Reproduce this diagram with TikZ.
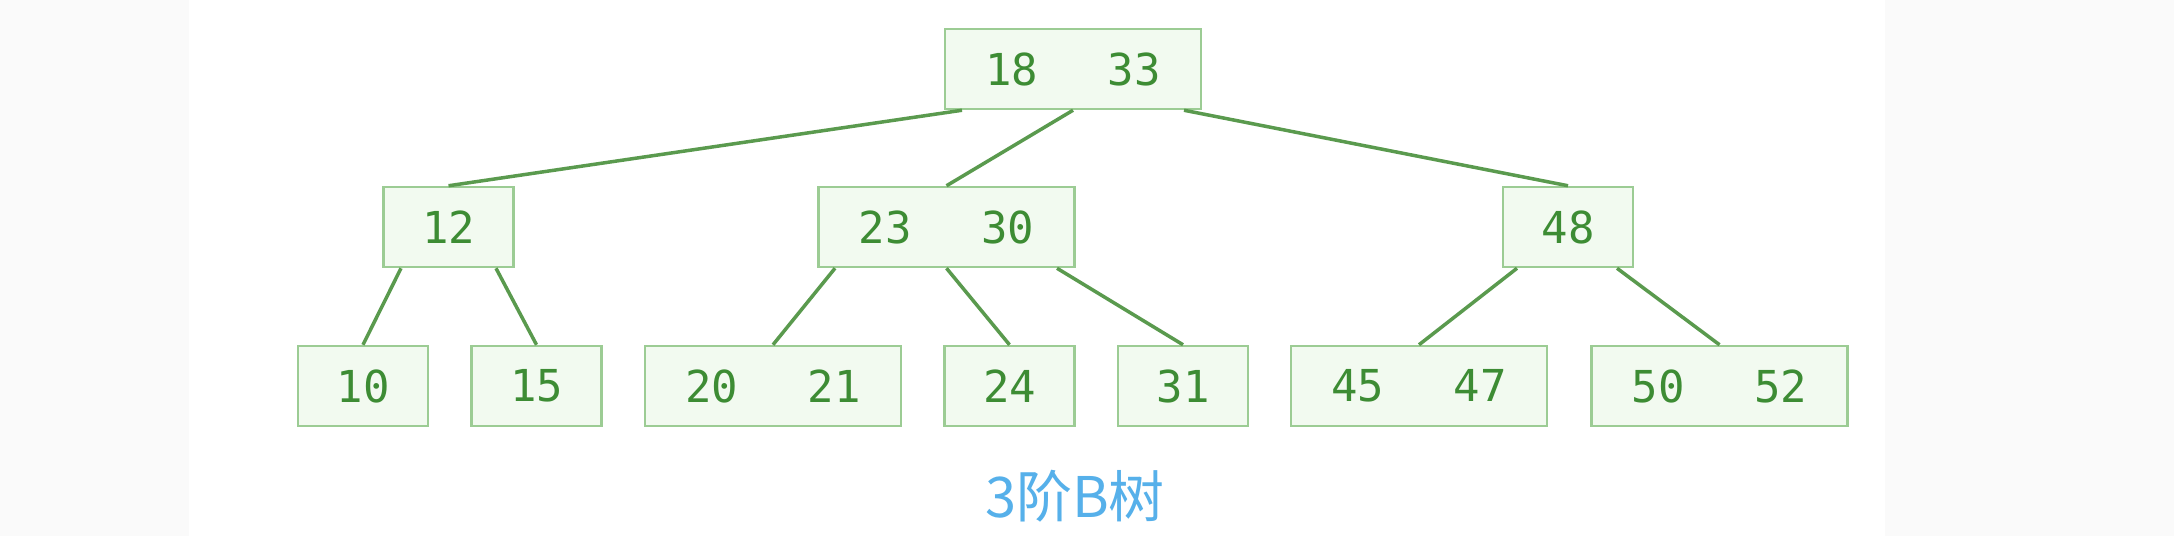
\documentclass[tikz,border=0pt]{standalone}
\usepackage{fontspec}
\newfontfamily\monof{DejaVu Sans Mono}
\newfontfamily\cjkf{Noto Sans CJK SC}
\usetikzlibrary{calc}
\definecolor{sidebg}{HTML}{FAFAFA}
\definecolor{boxline}{HTML}{9CCC94}
\definecolor{boxfill}{HTML}{F2FAF0}
\definecolor{edgec}{HTML}{5A9A4E}
\definecolor{keyc}{HTML}{3D8C34}
\definecolor{capc}{HTML}{56B0EA}
\tikzset{
  bnode/.style={draw=boxline, fill=boxfill, line width=2.5pt, inner sep=0pt,
    minimum height=80pt, text=keyc, font=\monof\fontsize{44}{44}\selectfont},
  one/.style={bnode, minimum width=130pt},
  two/.style={bnode, minimum width=256pt},
  link/.style={draw=edgec, line width=3.5pt}
}
\newcommand{\kk}[2]{#1\hspace{70pt}#2}
\begin{document}
\begin{tikzpicture}[x=1pt,y=-1pt]
\fill[sidebg] (0,0) rectangle (2174,536);
\fill[white] (189,0) rectangle (1885,536);
\useasboundingbox (0,0) rectangle (2174,536);

\node[two] (root) at (1073,69) {\kk{18}{33}};
\node[one] (n12) at (448.5,227) {12};
\node[two] (n2330) at (946.5,227) {\kk{23}{30}};
\node[one] (n48) at (1568,227) {48};

\node[one] (n10) at (363,386) {10};
\node[one] (n15) at (536.5,386) {15};
\node[two] (n2021) at (773,386) {\kk{20}{21}};
\node[one] (n24) at (1009.5,386) {24};
\node[one] (n31) at (1183,386) {31};
\node[two] (n4547) at (1419,386) {\kk{45}{47}};
\node[two] (n5052) at (1719.5,386) {\kk{50}{52}};

\draw[link] ([xshift=-111pt]root.south) -- (n12.north);
\draw[link] (root.south) -- (n2330.north);
\draw[link] ([xshift=111pt]root.south) -- (n48.north);
\draw[link] ([xshift=-47.5pt]n12.south) -- (n10.north);
\draw[link] ([xshift=47.5pt]n12.south) -- (n15.north);
\draw[link] ([xshift=-111.5pt]n2330.south) -- (n2021.north);
\draw[link] (n2330.south) -- (n24.north);
\draw[link] ([xshift=110.5pt]n2330.south) -- (n31.north);
\draw[link] ([xshift=-51pt]n48.south) -- (n4547.north);
\draw[link] ([xshift=49pt]n48.south) -- (n5052.north);

\node[text=capc, font=\cjkf\fontsize{56}{56}\selectfont, inner sep=0pt] (cap) at (1075,496) {3阶B树};
\end{tikzpicture}
\end{document}
